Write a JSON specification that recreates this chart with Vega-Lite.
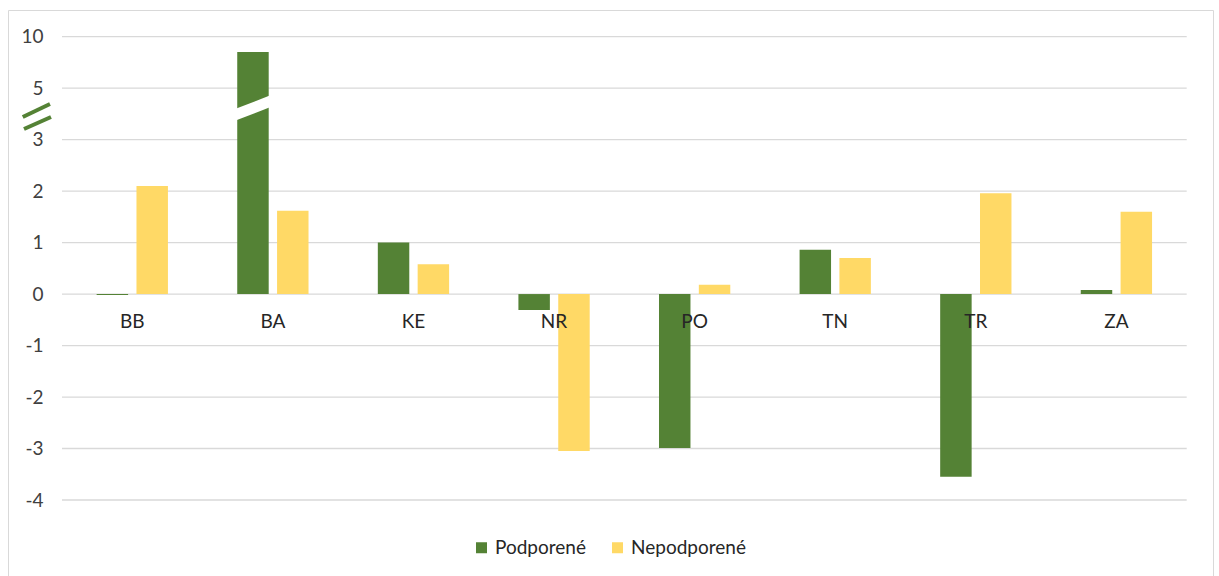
{
  "$schema": "https://vega.github.io/schema/vega-lite/v6.json",
  "width": 1205,
  "height": 580,
  "autosize": {"type": "none"},
  "padding": {"left": 8, "top": 10, "right": 6, "bottom": 0},
  "background": "white",
  "config": {
    "view": {"stroke": "#d9d9d9", "strokeWidth": 1},
    "font": "Lato",
    "axis": {"labelFont": "Lato", "labelFontSize": 19, "labelColor": "#404040"}
  },
  "datasets": {
    "bars": [
      {"region": "BB", "series": "Podporené", "value": -0.02},
      {"region": "BB", "series": "Nepodporené", "value": 2.1},
      {"region": "BA", "series": "Podporené", "value": 8.5},
      {"region": "BA", "series": "Nepodporené", "value": 1.62},
      {"region": "KE", "series": "Podporené", "value": 1.0},
      {"region": "KE", "series": "Nepodporené", "value": 0.58},
      {"region": "NR", "series": "Podporené", "value": -0.31},
      {"region": "NR", "series": "Nepodporené", "value": -3.05},
      {"region": "PO", "series": "Podporené", "value": -2.99},
      {"region": "PO", "series": "Nepodporené", "value": 0.18},
      {"region": "TN", "series": "Podporené", "value": 0.86},
      {"region": "TN", "series": "Nepodporené", "value": 0.7},
      {"region": "TR", "series": "Podporené", "value": -3.55},
      {"region": "TR", "series": "Nepodporené", "value": 1.96},
      {"region": "ZA", "series": "Podporené", "value": 0.08},
      {"region": "ZA", "series": "Nepodporené", "value": 1.6}
    ],
    "grid": [
      {"value": -4}, {"value": -3}, {"value": -2}, {"value": -1}, {"value": 0},
      {"value": 1}, {"value": 2}, {"value": 3}, {"value": 5}, {"value": 10}
    ],
    "one": [{}]
  },
  "layer": [
    {
      "data": {"name": "grid"},
      "mark": {"type": "rule", "color": "#d9d9d9", "strokeWidth": 1.3},
      "encoding": {
        "y": {"field": "value", "type": "quantitative",
              "scale": {"domain": [-4, 3, 5, 10], "range": [490, 129.6, 78.1, 26.6], "nice": false, "zero": false},
              "axis": {"values": [-4, -3, -2, -1, 0, 1, 2, 3, 5, 10], "title": null, "grid": false, "domain": false, "ticks": false, "labelPadding": 0, "offset": -35, "labelExpr": "replace(datum.label, '−', '-')"}},
        "x": {"datum": 0, "type": "quantitative", "scale": {"domain": [0, 1], "range": [54, 1178.7], "nice": false, "zero": false}, "axis": null},
        "x2": {"datum": 1}
      }
    },
    {
      "data": {"name": "bars"},
      "mark": {"type": "bar"},
      "encoding": {
        "x": {"field": "region", "type": "nominal", "sort": null,
              "scale": {"range": [54, 1178.7], "paddingInner": 0, "paddingOuter": 0},
              "axis": {"orient": "bottom", "title": null, "domain": false, "ticks": false, "tickSize": 0,
                       "labelAngle": 0, "labelPadding": 18, "offset": -295.9, "zindex": 1, "labelColor": "#262626"}},
        "xOffset": {"field": "series", "type": "nominal", "sort": ["Podporené", "Nepodporené"],
                    "scale": {"paddingInner": 0.21, "paddingOuter": 0.87}},
        "y": {"field": "value", "type": "quantitative",
              "scale": {"domain": [-4, 3, 5, 10], "range": [490, 129.6, 78.1, 26.6], "nice": false, "zero": false},
              "axis": {"values": [-4, -3, -2, -1, 0, 1, 2, 3, 5, 10], "title": null, "grid": false, "domain": false, "ticks": false, "labelPadding": 0, "offset": -35, "labelExpr": "replace(datum.label, '−', '-')"}},
        "color": {"field": "series", "type": "nominal",
                  "scale": {"domain": ["Podporené", "Nepodporené"], "range": ["#548235", "#FFD966"]},
                  "legend": {"orient": "none", "legendX": 464, "legendY": 528, "direction": "horizontal",
                             "title": null, "symbolType": "square", "symbolSize": 121, "symbolStrokeWidth": 0,
                             "labelFontSize": 19, "labelFont": "Lato", "labelColor": "#262626",
                             "columnPadding": 22, "labelOffset": 4, "padding": 0}}
      }
    },
    {
      "data": {"name": "one"},
      "mark": {"type": "rule", "color": "white", "strokeWidth": 11, "strokeCap": "butt"},
      "encoding": {
        "x": {"datum": 0.1538, "type": "quantitative", "scale": {"domain": [0, 1], "range": [54, 1178.7], "nice": false, "zero": false}, "axis": null},
        "x2": {"datum": 0.1865},
        "y": {"datum": 3.96, "type": "quantitative",
              "scale": {"domain": [-4, 3, 5, 10], "range": [490, 129.6, 78.1, 26.6], "nice": false, "zero": false},
              "axis": {"values": [-4, -3, -2, -1, 0, 1, 2, 3, 5, 10], "title": null, "grid": false, "domain": false, "ticks": false, "labelPadding": 0, "offset": -35, "labelExpr": "replace(datum.label, '−', '-')"}},
        "y2": {"datum": 4.51}
      }
    },
    {
      "data": {"name": "one"},
      "mark": {"type": "rule", "color": "#548235", "strokeWidth": 4, "strokeCap": "butt"},
      "encoding": {
        "x": {"datum": -0.0349, "type": "quantitative", "scale": {"domain": [0, 1], "range": [54, 1178.7], "nice": false, "zero": false}, "axis": null},
        "x2": {"datum": -0.0107},
        "y": {"datum": 3.878, "type": "quantitative",
              "scale": {"domain": [-4, 3, 5, 10], "range": [490, 129.6, 78.1, 26.6], "nice": false, "zero": false},
              "axis": {"values": [-4, -3, -2, -1, 0, 1, 2, 3, 5, 10], "title": null, "grid": false, "domain": false, "ticks": false, "labelPadding": 0, "offset": -35, "labelExpr": "replace(datum.label, '−', '-')"}},
        "y2": {"datum": 4.383}
      }
    },
    {
      "data": {"name": "one"},
      "mark": {"type": "rule", "color": "#548235", "strokeWidth": 4, "strokeCap": "butt"},
      "encoding": {
        "x": {"datum": -0.0338, "type": "quantitative", "scale": {"domain": [0, 1], "range": [54, 1178.7], "nice": false, "zero": false}, "axis": null},
        "x2": {"datum": -0.0098},
        "y": {"datum": 3.412, "type": "quantitative",
              "scale": {"domain": [-4, 3, 5, 10], "range": [490, 129.6, 78.1, 26.6], "nice": false, "zero": false},
              "axis": {"values": [-4, -3, -2, -1, 0, 1, 2, 3, 5, 10], "title": null, "grid": false, "domain": false, "ticks": false, "labelPadding": 0, "offset": -35, "labelExpr": "replace(datum.label, '−', '-')"}},
        "y2": {"datum": 3.878}
      }
    }
  ],
  "resolve": {"scale": {"x": "independent"}}
}
